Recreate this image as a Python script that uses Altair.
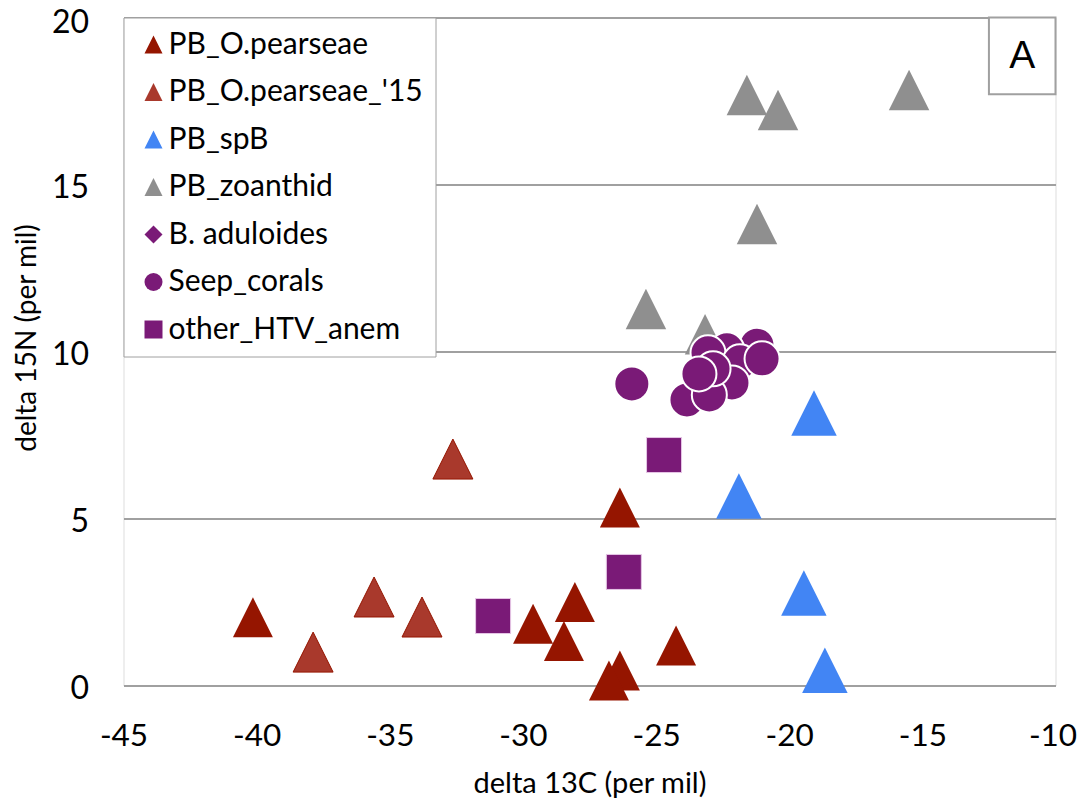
import altair as alt
import pandas as pd

# ---- data ----
series_names = ["PB_O.pearseae", "PB_O.pearseae_'15", "PB_spB", "PB_zoanthid",
                "B. aduloides", "Seep_corals", "other_HTV_anem"]
fill_colors = ["#951500", "#A9392C", "#4285F4", "#8F8F8F", "#7A1A77", "#7A1A77", "#7A1A77"]
TRI = "M-1,1L1,1L0,-1Z"
shape_list = [TRI, TRI, TRI, TRI, "diamond", "circle", "square"]

pearseae_x = [-40.14, -29.62, -28.05, -28.46, -26.36, -26.77, -24.25, -26.36]
pearseae_y = [2.04, 1.85, 2.5, 1.33, 0.45, 0.15, 1.2, 5.33]
pearseae15_x = [-37.88, -35.59, -33.79, -32.63]
pearseae15_y = [1.0, 2.65, 2.05, 6.78]
spB_x = [-19.07, -21.89, -19.45, -18.66]
spB_y = [8.16, 5.67, 2.77, 0.46]
zoanthid_x = [-21.59, -20.42, -15.5, -21.21, -25.38, -23.16]
zoanthid_y = [17.68, 17.23, 17.83, 13.82, 11.27, 10.52]
seep_x = [-25.91, -21.21, -22.34, -23.05, -21.85, -22.15, -23.84, -23.0, -22.86, -23.39, -21.02]
seep_y = [9.03, 10.19, 10.05, 9.96, 9.69, 9.06, 8.55, 8.7, 9.48, 9.33, 9.78]
other_x = [-31.12, -26.21, -24.7]
other_y = [2.08, 3.4, 6.9]

x_ticks = [-45, -40, -35, -30, -25, -20, -15, -10]
y_ticks = [0, 5, 10, 15, 20]

panel_label = ["A"]
panel_x = [-12.5]
panel_x2 = [-10]
panel_y = [17.7]
panel_y2 = [20]

GRID = "#A0A0A0"
FONT = "Lato"

xscale = alt.Scale(domain=[-45, -10], nice=False, zero=False)
yscale = alt.Scale(domain=[0, 20], nice=False, zero=False)
xaxis = alt.Axis(values=x_ticks, grid=False, ticks=False, tickSize=0, domain=False,
                 labelExpr="'' + datum.value",
                 labelOffset={"condition": {"test": "datum.value == -10", "value": -3},
                              "value": 0},
                 labelFontSize=31.5, labelFont=FONT, labelColor="black", labelPadding=35,
                 labelFlush=False, labelOverlap=False,
                 titleFontSize=29, titleFont=FONT, titleFontWeight="normal",
                 titleColor="black", titleBaseline="alphabetic", titleY=107)
yaxis = alt.Axis(values=y_ticks, grid=True, gridColor=GRID, gridWidth=2, ticks=False,
                 tickSize=0, domain=False,
                 labelOffset={"condition": {"test": "datum.value == 20", "value": 5},
                              "value": 3},
                 labelExpr="'' + datum.value",
                 labelFontSize=32, labelFont=FONT, labelColor="black", labelPadding=35,
                 labelFlush=False, labelOverlap=False,
                 titleFontSize=28, titleFont=FONT, titleFontWeight="normal",
                 titleColor="black", titleAngle=270, titleBaseline="alphabetic",
                 titleAlign="center", titleX=-88, titleY=320)
fill_scale = alt.Scale(domain=series_names, range=fill_colors)
shape_scale = alt.Scale(domain=series_names, range=shape_list)
legend = alt.Legend(title=None, orient="none", legendX=0, legendY=0,
                    fillColor="white", strokeColor=GRID, padding=12,
                    symbolSize=324, symbolStrokeWidth=0, symbolOpacity=1,
                    symbolOffset=3,
                    labelFontSize=30, labelFont=FONT, labelColor="black",
                    labelOffset=0, rowPadding=17.5, labelLimit=400)


def layer(name, xs, ys, size, stroke=None, sw=0):
    df = pd.DataFrame({"x": xs, "y": ys, "series": [name] * len(xs)})
    kw = dict(filled=True, size=size, opacity=1, fillOpacity=1)
    if stroke:
        kw.update(stroke=stroke, strokeWidth=sw, strokeOpacity=1)
    else:
        kw.update(strokeWidth=0)
    return alt.Chart(df).mark_point(**kw).encode(
        x=alt.X("x:Q", scale=xscale, axis=xaxis, title="delta 13C (per mil)"),
        y=alt.Y("y:Q", scale=yscale, axis=yaxis, title="delta 15N (per mil)"),
        fill=alt.Fill("series:N", scale=fill_scale, legend=legend),
        shape=alt.Shape("series:N", scale=shape_scale, legend=legend),
    )


layers = [
    layer(series_names[0], pearseae_x, pearseae_y, 1600),
    layer(series_names[1], pearseae15_x, pearseae15_y, 1600, stroke="#951500", sw=1),
    layer(series_names[2], spB_x, spB_y, 2070),
    layer(series_names[3], zoanthid_x, zoanthid_y, 1640),
    layer(series_names[5], seep_x, seep_y, 1225, stroke="white", sw=2),
    layer(series_names[6], other_x, other_y, 1225, stroke="#E6C6E6", sw=1),
]

panel_df = pd.DataFrame({"x": panel_x, "x2": panel_x2, "y": panel_y, "y2": panel_y2,
                         "label": panel_label})
panel_df["xm"] = (panel_df["x"] + panel_df["x2"]) / 2
panel_df["ym"] = (panel_df["y"] + panel_df["y2"]) / 2

panel_box = alt.Chart(panel_df).mark_rect(fill="white", stroke=GRID, strokeWidth=2).encode(
    x=alt.X("x:Q", scale=xscale), x2="x2:Q",
    y=alt.Y("y:Q", scale=yscale), y2="y2:Q",
)
panel_text = alt.Chart(panel_df).mark_text(fontSize=39, font="Liberation Sans",
                                           color="black", baseline="middle",
                                           align="center").encode(
    x=alt.X("xm:Q", scale=xscale), y=alt.Y("ym:Q", scale=yscale), text="label:N"
)

chart = alt.layer(*layers, panel_box, panel_text).properties(
    width=932, height=668,
    autosize=alt.AutoSizeParams(type="none"),
    padding={"left": 115.5, "top": 9.5, "right": 21.5, "bottom": 122},
).configure_view(stroke=GRID, strokeWidth=2).configure_legend(
    strokeWidth=2
).configure(background="white")

chart.save("out.html", embed_options={"renderer": "svg", "actions": False})
